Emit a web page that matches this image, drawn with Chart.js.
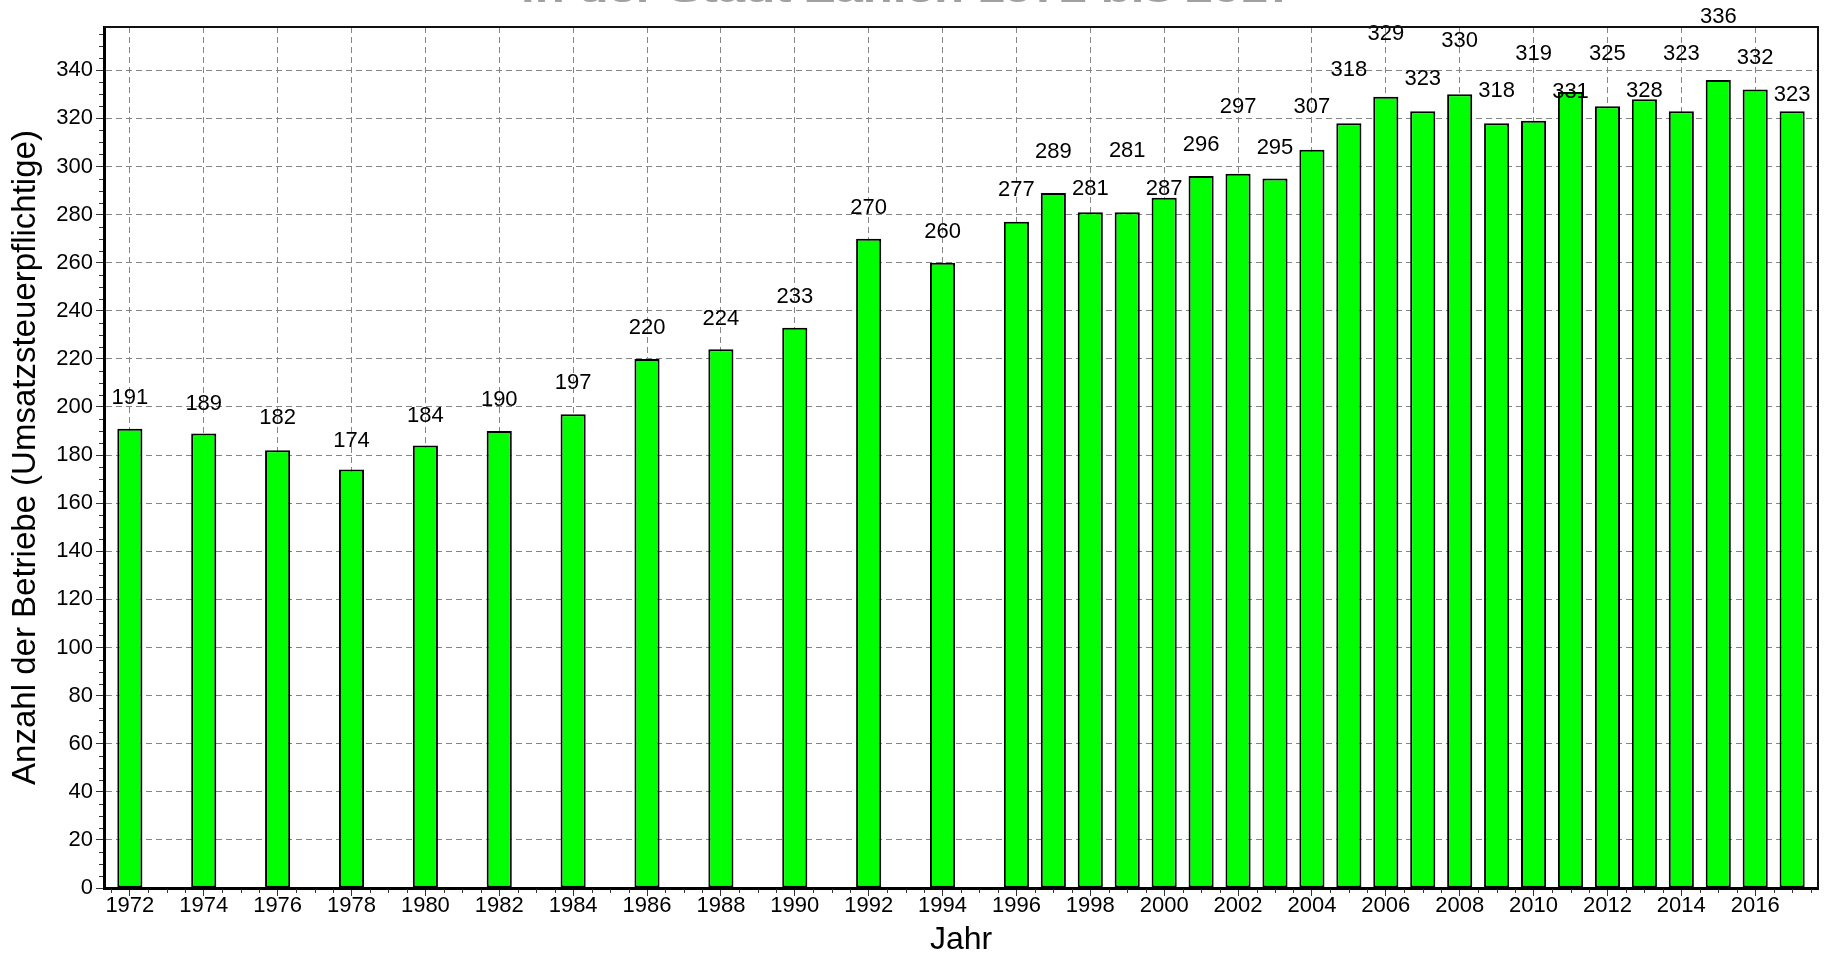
<!DOCTYPE html>
<html><head><meta charset="utf-8">
<script src="https://cdn.jsdelivr.net/npm/chart.js@4.4.1/dist/chart.umd.min.js"></script>
<style>html,body{margin:0;padding:0;background:#fff;overflow:hidden}</style>
</head><body>
<canvas id="c" width="1829" height="970"></canvas>
<script>
// ---- data ----
const years = [1972,1974,1976,1978,1980,1982,1984,1986,1988,1990,1992,1994,
  1996,1997,1998,1999,2000,2001,2002,2003,2004,2005,2006,2007,2008,2009,2010,2011,2012,2013,2014,2015,2016,2017];
const betriebe = [191,189,182,174,184,190,197,220,224,233,270,260,
  277,289,281,281,287,296,297,295,307,318,329,323,330,318,319,331,325,328,323,336,332,323];
const xTickYears = [1972,1974,1976,1978,1980,1982,1984,1986,1988,1990,1992,1994,1996,1998,2000,2002,2004,2006,2008,2010,2012,2014,2016];
const yTickValues = [0,20,40,60,80,100,120,140,160,180,200,220,240,260,280,300,320,340];
const titleText = 'in der Stadt Zahlen 1972 bis 2017';
const xTitle = 'Jahr';
const yTitle = 'Anzahl der Betriebe (Umsatzsteuerpflichtige)';
// label lift above bar top (style, px) – staggered as in the original
const labelLift = [31,30,32,29,30,31,31,31,30,31,31,31,
  32,41,23,61,9,31,67,31,43,53,63,32,53,32,67,0,52,8,57,63,32,16];

const FONT = "'Liberation Sans', Arial, sans-serif";

const extras = {
  id: 'extras',
  beforeDatasetsDraw(chart) {
    const ctx = chart.ctx, xs = chart.scales.x, ys = chart.scales.y, a = chart.chartArea;
    ctx.save();
    ctx.strokeStyle = '#333';
    ctx.lineWidth = 1;
    ctx.beginPath();
    for (let v = Math.ceil(xs.min * 2) / 2; v <= xs.max; v += 0.5) {
      if (xTickYears.includes(v)) continue;
      const px = Math.round(xs.getPixelForValue(v)) + 0.5;
      ctx.moveTo(px, a.bottom + 1); ctx.lineTo(px, a.bottom + 5);
    }
    for (let v = 5; v <= ys.max; v += 5) {
      if (yTickValues.includes(v)) continue;
      const py = Math.round(ys.getPixelForValue(v)) + 0.5;
      ctx.moveTo(a.left - 5, py); ctx.lineTo(a.left - 1, py);
    }
    ctx.stroke();
    ctx.restore();
  },
  afterDatasetsDraw(chart) {
    const ctx = chart.ctx;
    const meta = chart.getDatasetMeta(0);
    ctx.save();
    ctx.font = '22px ' + FONT;
    ctx.fillStyle = '#000';
    ctx.textAlign = 'center';
    ctx.textBaseline = 'middle';
    meta.data.forEach((el, i) => {
      ctx.fillText(String(betriebe[i]), el.x, el.y - labelLift[i]);
    });
    ctx.restore();
  },
  afterDraw(chart) {
    const ctx = chart.ctx, a = chart.chartArea;
    ctx.save();
    ctx.strokeStyle = '#111';
    ctx.lineWidth = 2;
    ctx.beginPath();
    ctx.moveTo(a.left, a.top); ctx.lineTo(a.right, a.top); ctx.lineTo(a.right, a.bottom);
    ctx.stroke();
    // title (cut off at the top edge as in the original)
    ctx.font = 'bold 34px ' + FONT;
    ctx.fillStyle = '#a0a0a0';
    ctx.textBaseline = 'alphabetic';
    const w = ctx.measureText(titleText).width;
    const target = 774;
    ctx.translate(908, 2);
    ctx.scale(target / w, 1);
    ctx.textAlign = 'center';
    ctx.fillText(titleText, 0, 0);
    ctx.restore();
  }
};

new Chart(document.getElementById('c'), {
  type: 'bar',
  data: {
    datasets: [{
      data: years.map((y, i) => ({x: y, y: betriebe[i]})),
      backgroundColor: '#00ff00',
      borderColor: '#000',
      borderWidth: 2,
      borderSkipped: false,
      barPercentage: 0.68,
      categoryPercentage: 1
    }]
  },
  options: {
    responsive: false,
    animation: false,
    devicePixelRatio: 1,
    layout: {padding: {top: 27, right: 11, left: 0, bottom: 0}},
    plugins: {legend: {display: false}, tooltip: {enabled: false}, title: {display: false}},
    scales: {
      x: {
        type: 'linear', min: 1971.3, max: 2017.7, offset: false,
        grid: {offset: false, color: '#858585', lineWidth: 1, drawTicks: true, tickLength: 8, tickColor: '#333', tickWidth: 1},
        border: {display: true, color: '#000', width: 3, dash: [6, 4]},
        ticks: {font: {family: FONT, size: 22}, color: '#000', padding: -3, maxRotation: 0, autoSkip: false, callback: v => String(v)},
        afterBuildTicks: s => { s.ticks = xTickYears.map(v => ({value: v})); },
        afterFit: s => { s.height = 82; },
        title: {display: true, text: xTitle, font: {family: FONT, size: 32}, color: '#000', padding: {top: 0, bottom: 11}}
      },
      y: {
        min: 0, max: 358,
        grid: {color: '#858585', lineWidth: 1, drawTicks: true, tickLength: 8, tickColor: '#333', tickWidth: 1},
        border: {display: true, color: '#000', width: 3, dash: [6, 4]},
        ticks: {font: {family: FONT, size: 22}, color: '#000', padding: 3, callback: v => String(v)},
        afterBuildTicks: s => { s.ticks = yTickValues.map(v => ({value: v})); },
        afterFit: s => { s.width = 104; },
        title: {display: true, text: yTitle, font: {family: FONT, size: 33}, color: '#000', padding: {top: 6, bottom: 0}}
      }
    }
  },
  plugins: [extras]
});
</script>
</body></html>
